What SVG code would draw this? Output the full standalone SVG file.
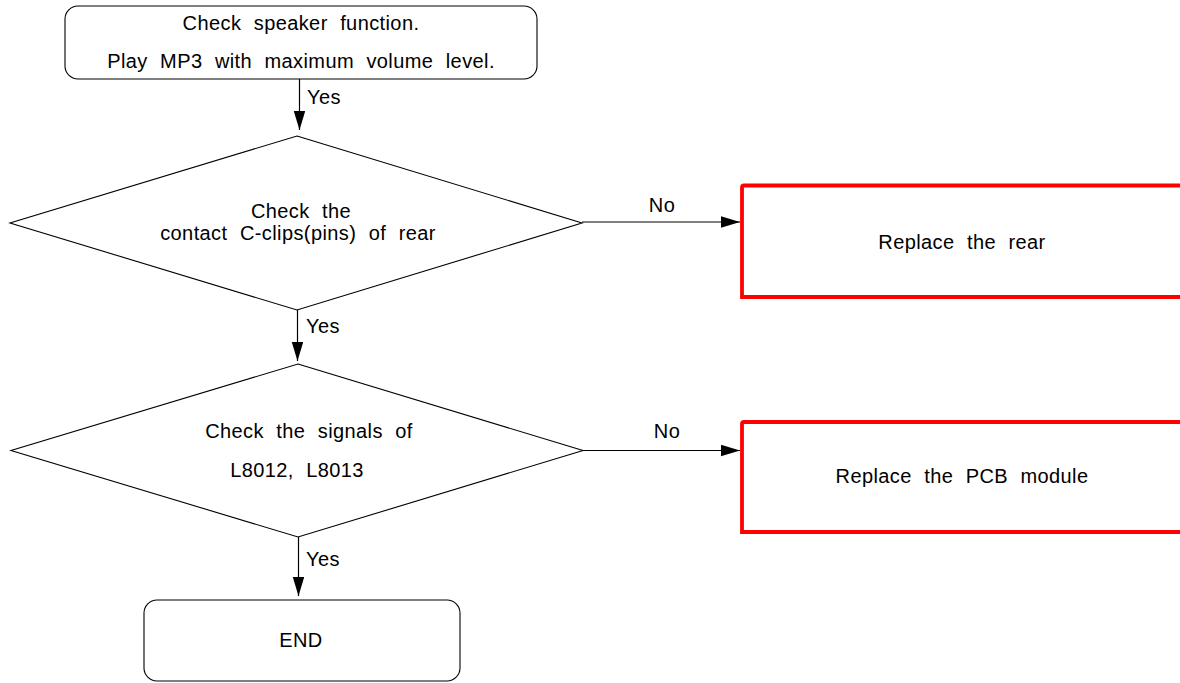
<svg xmlns="http://www.w3.org/2000/svg" width="1180" height="683" viewBox="0 0 1180 683">
<style>
  text { font-family: "Liberation Sans", Arial, sans-serif; font-size: 20px; letter-spacing: 0.4px; word-spacing: 6.5px; fill: #000; }
  .c { text-anchor: middle; }
  .shape { fill: #fff; stroke: #000; stroke-width: 1.1; }
  .red { fill: #fff; stroke: #ff0000; stroke-width: 3.8; }
  .conn { fill: none; stroke: #000; stroke-width: 1.2; marker-end: url(#ah); }
</style>
<defs>
  <marker id="ah" markerUnits="userSpaceOnUse" markerWidth="20" markerHeight="12" refX="19" refY="5.75" orient="auto">
    <path d="M0,0 L19,5.75 L0,11.5 z" fill="#000"/>
  </marker>
</defs>
<rect width="1180" height="683" fill="#fff"/>

<g id="start">
  <rect class="shape" x="65" y="6" width="472" height="73" rx="13" ry="13"/>
  <text class="c" x="301" y="30">Check speaker function.</text>
  <text class="c" x="301" y="68">Play MP3 with maximum volume level.</text>
</g>

<g id="decision1">
  <polygon class="shape" points="297,136 582,223 297,310 10,223"/>
  <text class="c" x="301" y="218">Check the</text>
  <text class="c" x="298" y="240">contact C-clips(pins) of rear</text>
</g>

<g id="replace-rear">
  <path class="red" d="M1200,185.5 H744 Q742,185.5 742,187.5 V297 H1200"/>
  <text class="c" x="962" y="249">Replace the rear</text>
</g>

<g id="decision2">
  <polygon class="shape" points="298,364 583,450.5 298,537 11,450.5"/>
  <text class="c" x="309" y="438">Check the signals of</text>
  <text class="c" x="297" y="477">L8012, L8013</text>
</g>

<g id="replace-pcb">
  <path class="red" d="M1200,422 H744 Q742,422 742,424 V532 H1200"/>
  <text class="c" x="962" y="483">Replace the PCB module</text>
</g>

<g id="end">
  <rect class="shape" x="144" y="600" width="316" height="81" rx="13" ry="13"/>
  <text class="c" x="301" y="647">END</text>
</g>

<g id="connectors">
  <line class="conn" x1="299.5" y1="79" x2="299.5" y2="130"/>
  <text x="307" y="104">Yes</text>
  <line class="conn" x1="582" y1="222" x2="740" y2="222"/>
  <text class="c" x="662" y="212">No</text>
  <line class="conn" x1="297.5" y1="310" x2="297.5" y2="361"/>
  <text x="306" y="333">Yes</text>
  <line class="conn" x1="583" y1="450.5" x2="740" y2="450.5"/>
  <text class="c" x="667" y="438">No</text>
  <line class="conn" x1="298.5" y1="537" x2="298.5" y2="596"/>
  <text x="306" y="566">Yes</text>
</g>
</svg>
